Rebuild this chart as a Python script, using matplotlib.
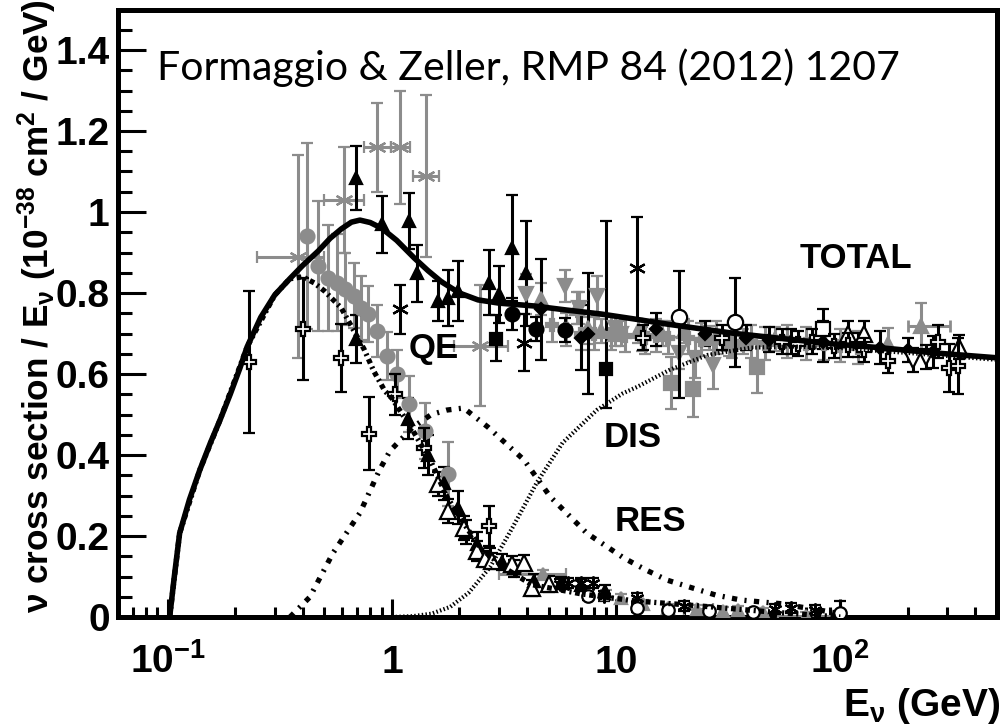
import matplotlib
matplotlib.use('Agg')
import matplotlib.pyplot as plt
from matplotlib.ticker import LogLocator, NullFormatter, MultipleLocator

plt.rcParams['font.family'] = 'Liberation Sans'
plt.rcParams['font.weight'] = 'bold'
plt.rcParams['mathtext.fontset'] = 'custom'
plt.rcParams['mathtext.rm'] = 'Liberation Sans:bold'
plt.rcParams['mathtext.bf'] = 'Liberation Sans:bold'
plt.rcParams['mathtext.it'] = 'Liberation Sans:bold'
plt.rcParams['mathtext.default'] = 'bf'

GRAY = '#8c8c8c'

## ----- theory curves ----- ##
total_e = [0.102, 0.107, 0.113, 0.125, 0.139, 0.155, 0.171, 0.19, 0.21, 0.226, 0.26, 0.30, 0.35, 0.40,
           0.47, 0.53, 0.594, 0.66, 0.72, 0.80, 0.90, 1.05, 1.26, 1.45, 1.66, 2.0, 2.42, 3.0, 4.3, 6.0,
           8.6, 12, 17, 25, 34, 50, 94, 150, 264, 500]
total_xs = [0.0, 0.10, 0.207, 0.29, 0.363, 0.43, 0.486, 0.55, 0.615, 0.667, 0.74, 0.795, 0.835, 0.868,
            0.904, 0.935, 0.958, 0.975, 0.98, 0.974, 0.96, 0.93, 0.886, 0.855, 0.828, 0.80, 0.783, 0.775,
            0.768, 0.758, 0.748, 0.736, 0.723, 0.71, 0.70, 0.69, 0.674, 0.665, 0.652, 0.64]

qe_e = [0.102, 0.113, 0.139, 0.171, 0.226, 0.30, 0.35, 0.40, 0.45, 0.50, 0.594, 0.75, 0.83, 0.93, 1.0,
        1.22, 1.49, 1.77, 2.1, 2.48, 3.2, 4.2, 7.0, 12, 24, 50, 100]
qe_xs = [0.0, 0.207, 0.363, 0.486, 0.667, 0.795, 0.835, 0.84, 0.825, 0.805, 0.763, 0.662, 0.607, 0.558,
         0.54, 0.467, 0.385, 0.294, 0.23, 0.17, 0.12, 0.08, 0.057, 0.04, 0.027, 0.012, 0.0]

res_e = [0.351, 0.43, 0.546, 0.72, 0.88, 0.98, 1.24, 1.5, 1.76, 2.09, 2.68, 3.2, 3.88, 5.1, 7.4, 10.8,
         13.6, 16.9, 21.8, 27.9, 36, 44.7, 56.7, 66, 85, 100]
res_xs = [0.0, 0.049, 0.158, 0.257, 0.363, 0.41, 0.469, 0.50, 0.511, 0.516, 0.469, 0.43, 0.388, 0.296,
          0.207, 0.146, 0.116, 0.091, 0.072, 0.054, 0.042, 0.037, 0.032, 0.025, 0.015, 0.008]

dis_e = [1.0, 1.24, 1.5, 1.82, 2.2, 2.74, 3.46, 4.42, 5.77, 8.2, 10.7, 12.4, 17.3, 25.6, 40, 60, 100, 200, 500]
dis_xs = [0.0, 0.002, 0.008, 0.025, 0.06, 0.123, 0.222, 0.331, 0.43, 0.511, 0.552, 0.568, 0.61, 0.647,
          0.665, 0.668, 0.664, 0.652, 0.635]

## ----- measurements (read off the figure) ----- ##
# gray asterisks with energy bins
ast_g_e = [0.38, 0.61, 0.86, 1.09, 1.42, 2.47]
ast_g_xs = [0.89, 1.03, 1.16, 1.16, 1.09, 0.67]
ast_g_err = [0.25, 0.13, 0.11, 0.14, 0.20, 0.15]
ast_g_elo = [0.25, 0.50, 0.75, 0.99, 1.24, 1.90]
ast_g_ehi = [0.50, 0.75, 0.99, 1.21, 1.62, 3.30]

# gray circles (QE)
circ_g_e = [0.42, 0.47, 0.52, 0.57, 0.62, 0.68, 0.73, 0.78, 0.86, 0.95, 1.05, 1.19, 1.41, 1.77]
circ_g_xs = [0.94, 0.867, 0.837, 0.825, 0.81, 0.793, 0.763, 0.748, 0.706, 0.644, 0.60, 0.526, 0.459, 0.353]
circ_g_err = [0.23, 0.16, 0.13, 0.12, 0.09, 0.08, 0.08, 0.07, 0.065, 0.06, 0.06, 0.07, 0.07, 0.08]

# black triangles (total)
tri_b_e = [0.69, 0.90, 1.19, 1.30, 1.60, 1.78, 1.98, 2.7, 3.0, 3.45, 3.95]
tri_b_xs = [1.084, 0.97, 0.978, 0.849, 0.78, 0.788, 0.805, 0.825, 0.797, 0.911, 0.849]
tri_b_err = [0.08, 0.07, 0.07, 0.07, 0.05, 0.07, 0.075, 0.08, 0.07, 0.13, 0.13]

# black triangles (QE falloff)
tri_q_e = [0.69, 1.18, 1.45, 1.7, 1.98, 2.15, 2.4, 2.75, 3.1, 3.5, 4.3, 5.7, 7.0, 8.9]
tri_q_xs = [0.686, 0.49, 0.40, 0.33, 0.27, 0.21, 0.18, 0.15, 0.135, 0.12, 0.09, 0.085, 0.08, 0.065]
tri_q_err = [0.06, 0.05, 0.05, 0.04, 0.04, 0.03, 0.03, 0.02, 0.02, 0.02, 0.015, 0.015, 0.015, 0.015]

# open triangles (QE falloff)
tri_o_e = [1.60, 1.77, 2.1, 2.4, 2.6, 2.8, 3.45, 3.9, 4.2, 5.0]
tri_o_xs = [0.328, 0.262, 0.22, 0.163, 0.143, 0.138, 0.131, 0.133, 0.072, 0.081]
tri_o_err = [0.03, 0.03, 0.03, 0.025, 0.02, 0.02, 0.02, 0.02, 0.02, 0.02]

# open crosses
plus_o_e = [0.23, 0.40, 0.594, 0.79, 1.03, 1.39, 2.7, 13.2, 29.8, 55, 65, 74.6, 94, 108, 128, 164, 274, 304, 336]
plus_o_xs = [0.63, 0.711, 0.64, 0.452, 0.55, 0.417, 0.225, 0.69, 0.69, 0.68, 0.675, 0.68, 0.67, 0.672,
             0.66, 0.632, 0.68, 0.615, 0.62]
plus_o_err = [0.175, 0.127, 0.084, 0.09, 0.05, 0.05, 0.05, 0.03, 0.03, 0.03, 0.03, 0.03, 0.03, 0.03,
              0.03, 0.03, 0.04, 0.06, 0.07]

# gray crosses
plus_g_e = [5.2, 6.0, 7.0, 8.0, 9.5, 11, 13.5, 15, 17, 21, 24, 28, 33, 40, 46, 58, 70, 85, 100, 120]
plus_g_xs = [0.72, 0.71, 0.70, 0.70, 0.70, 0.695, 0.69, 0.695, 0.69, 0.69, 0.685, 0.69, 0.68, 0.68,
             0.675, 0.68, 0.675, 0.675, 0.67, 0.665]
plus_g_err = [0.04, 0.04, 0.04, 0.04, 0.04, 0.04, 0.04, 0.04, 0.04, 0.04, 0.04, 0.04, 0.04, 0.04,
              0.04, 0.04, 0.04, 0.04, 0.04, 0.04]

# black circles
circ_b_e = [3.45, 4.4, 5.9]
circ_b_xs = [0.748, 0.711, 0.709]
circ_b_err = [0.04, 0.03, 0.03]

# black asterisks
ast_b_e = [1.09, 3.9, 12.4]
ast_b_xs = [0.76, 0.677, 0.862]
ast_b_err = [0.06, 0.07, 0.125]

# black squares
sq_b_e = [2.9, 9.0]
sq_b_xs = [0.686, 0.612]
sq_b_lo = [0.055, 0.096]
sq_b_hi = [0.06, 0.366]

# gray squares
sq_g_e = [17.5, 22, 42.6]
sq_g_xs = [0.578, 0.563, 0.617]
sq_g_err = [0.065, 0.07, 0.065]

# gray down triangles
dn_g_e = [3.95, 5.9, 6.8, 8.2, 9.9, 10.5, 13, 19, 22.5, 27]
dn_g_xs = [0.797, 0.817, 0.763, 0.793, 0.714, 0.70, 0.686, 0.652, 0.64, 0.622]
dn_g_err = [0.05, 0.04, 0.04, 0.05, 0.03, 0.03, 0.03, 0.04, 0.05, 0.06]

# gray up triangles
up_g_e = [4.6, 6.7, 7.5, 8.6, 9.9, 12.5, 16, 20, 26, 32, 37, 51, 164, 228]
up_g_xs = [0.785, 0.763, 0.714, 0.706, 0.70, 0.706, 0.70, 0.706, 0.689, 0.674, 0.68, 0.686, 0.674, 0.718]
up_g_err = [0.04, 0.04, 0.04, 0.03, 0.03, 0.03, 0.03, 0.03, 0.03, 0.03, 0.03, 0.03, 0.04, 0.058]

# black diamonds
dia_b_e = [4.6, 7.0, 7.5, 15, 25, 38, 48, 60, 84, 120, 150, 200, 260]
dia_b_xs = [0.76, 0.69, 0.70, 0.71, 0.70, 0.69, 0.685, 0.68, 0.68, 0.672, 0.665, 0.66, 0.655]
dia_b_err = [0.125, 0.08, 0.15, 0.04, 0.03, 0.03, 0.03, 0.03, 0.05, 0.03, 0.04, 0.03, 0.04]

# open circles
circ_o_e = [19, 34]
circ_o_xs = [0.74, 0.728]
circ_o_lo = [0.2, 0.11]
circ_o_hi = [0.115, 0.11]

# open squares / open triangles at high energy
sq_o_e = [84]
sq_o_xs = [0.711]
sq_o_err = [0.05]
up_o_e = [108, 128, 340]
up_o_xs = [0.70, 0.70, 0.667]
up_o_err = [0.03, 0.03, 0.03]
dn_o_e = [212, 241]
dn_o_xs = [0.634, 0.642]
dn_o_err = [0.03, 0.03]

# QE tail near zero
tail_g_e = [4.7, 9.0, 10.5, 13.2, 17, 23, 30, 35, 45, 70]
tail_g_xs = [0.106, 0.057, 0.047, 0.032, 0.022, 0.02, 0.015, 0.017, 0.012, 0.003]
tail_g_elo = [3.0, 9.0, 10.5, 13.2, 17, 20, 30, 35, 45, 53]
tail_g_ehi = [6.0, 9.0, 10.5, 13.2, 17, 27, 30, 35, 45, 97]
tail_b_e = [5.6, 6.1, 7.0, 7.9, 8.8, 12.4, 20, 51, 60, 77]
tail_b_xs = [0.081, 0.084, 0.084, 0.084, 0.052, 0.047, 0.027, 0.02, 0.022, 0.017]
tail_o_e = [7.5, 12.4, 17, 26, 41, 100]
tail_o_xs = [0.052, 0.022, 0.017, 0.015, 0.012, 0.01]
tail_o_err = [0.01, 0.01, 0.008, 0.008, 0.008, 0.03]


fig = plt.figure(figsize=(10.04, 7.25), dpi=100)
ax = fig.add_axes([118 / 1004, 1 - 617 / 725, 879 / 1004, 607.5 / 725])


def pts(x, y, yerr, marker, fc, ec, bar, ms=9, xerr=None, z=3):
    ax.errorbar(x, y, yerr=yerr, xerr=xerr, fmt='', marker=marker, ls='none', mfc=fc, mec=ec, ms=ms,
                mew=1.6, ecolor=bar, elinewidth=2.2, capsize=4, capthick=2, zorder=z)


def span(e, lo, hi):
    return [[a - b for a, b in zip(e, lo)], [c - a for a, c in zip(e, hi)]]


asterisk = (6, 2, 0)
pts(ast_g_e, ast_g_xs, ast_g_err, asterisk, GRAY, GRAY, GRAY, ms=13, xerr=span(ast_g_e, ast_g_elo, ast_g_ehi))
pts(circ_g_e, circ_g_xs, circ_g_err, 'o', GRAY, GRAY, GRAY, ms=10)
pts(plus_g_e, plus_g_xs, plus_g_err, 'P', GRAY, GRAY, GRAY, ms=9)
pts(dn_g_e, dn_g_xs, dn_g_err, 'v', GRAY, GRAY, GRAY, ms=10)
pts(up_g_e, up_g_xs, up_g_err, '^', GRAY, GRAY, GRAY, ms=10)
ax.errorbar([228], [0.718], xerr=[[28], [79]], fmt='none', ecolor=GRAY, elinewidth=2.2, capsize=4, capthick=2)
pts(sq_g_e, sq_g_xs, sq_g_err, 's', GRAY, GRAY, GRAY, ms=10)
pts(tail_g_e, tail_g_xs, 0.01, '^', GRAY, GRAY, GRAY, ms=9, xerr=span(tail_g_e, tail_g_elo, tail_g_ehi))

pts(tri_b_e, tri_b_xs, tri_b_err, '^', 'black', 'black', 'black', ms=9)
pts(tri_q_e, tri_q_xs, tri_q_err, '^', 'black', 'black', 'black', ms=8)
pts(tri_o_e, tri_o_xs, tri_o_err, '^', 'white', 'black', 'black', ms=11)
pts(plus_o_e, plus_o_xs, plus_o_err, 'P', 'white', 'black', 'black', ms=10, z=4)
pts(circ_b_e, circ_b_xs, circ_b_err, 'o', 'black', 'black', 'black', ms=10)
pts(ast_b_e, ast_b_xs, ast_b_err, asterisk, 'black', 'black', 'black', ms=12)
pts(sq_b_e, sq_b_xs, [sq_b_lo, sq_b_hi], 's', 'black', 'black', 'black', ms=9)
pts(dia_b_e, dia_b_xs, dia_b_err, 'D', 'black', 'black', 'black', ms=6)
pts(circ_o_e, circ_o_xs, [circ_o_lo, circ_o_hi], 'o', 'white', 'black', 'black', ms=11, z=4)
pts(sq_o_e, sq_o_xs, sq_o_err, 's', 'white', 'black', 'black', ms=10)
pts(up_o_e, up_o_xs, up_o_err, '^', 'white', 'black', 'black', ms=11)
pts(dn_o_e, dn_o_xs, dn_o_err, 'v', 'white', 'black', 'black', ms=11)
pts(tail_b_e, tail_b_xs, 0.012, asterisk, 'black', 'black', 'black', ms=10)
pts(tail_o_e, tail_o_xs, tail_o_err, 'o', 'white', 'black', 'black', ms=9)

# theory curves on top
ax.plot(res_e, res_xs, color='black', lw=3.8, ls=(0, (1.0, 1.4, 0.4, 1.4)), zorder=6)
ax.plot(qe_e, qe_xs, color='black', lw=3.8, ls=(0, (0.9, 0.7, 0.4, 0.7)), zorder=6)
ax.plot(dis_e, dis_xs, color='black', lw=3.0, ls=(0, (0.35, 0.55)), zorder=6)
ax.plot(total_e, total_xs, color='black', lw=4, solid_capstyle='butt', zorder=7)

ax.set_xscale('log')
ax.set_xlim(0.06, 500)
ax.set_ylim(0, 1.5)

ax.set_xticks([0.1, 1, 10, 100], labels=[r'$\mathbf{10^{-1}}$', '1', '10', r'$\mathbf{10^{2}}$'])
ax.xaxis.set_minor_locator(LogLocator(base=10, subs=[2, 3, 4, 5, 6, 7, 8, 9]))
ax.xaxis.set_minor_formatter(NullFormatter())
ax.set_yticks([0, 0.2, 0.4, 0.6, 0.8, 1.0, 1.2, 1.4],
              labels=['0', '0.2', '0.4', '0.6', '0.8', '1', '1.2', '1.4'])
ax.yaxis.set_minor_locator(MultipleLocator(0.05))

ax.tick_params(axis='both', which='both', direction='in', width=2.2, top=False, right=False)
ax.tick_params(axis='y', which='major', length=20, labelsize=28, pad=6)
ax.tick_params(axis='y', which='minor', length=10)
ax.tick_params(axis='x', which='major', length=13, labelsize=28, pad=40)
ax.tick_params(axis='x', which='minor', length=7)
for lab in ax.get_xticklabels():
    lab.set_verticalalignment('baseline')

for s in ax.spines.values():
    s.set_linewidth(3.6)

# curve labels
ax.text(117, 0.884, 'TOTAL', fontsize=25, ha='center', va='center', zorder=8)
ax.text(1.54, 0.664, 'QE', fontsize=25, ha='center', va='center', zorder=8)
ax.text(11.9, 0.442, 'DIS', fontsize=25, ha='center', va='center', zorder=8)
ax.text(14.2, 0.235, 'RES', fontsize=25, ha='center', va='center', zorder=8)

fig.text(157 / 1004, 1 - 80 / 725, 'Formaggio & Zeller, RMP 84 (2012) 1207',
         family='Lato', fontweight='normal', fontsize=29.5, ha='left', va='baseline')

fig.text(49 / 1004, 1 - 306 / 725,
         r'ν cross section / E$_\mathbf{ν}$ (10$^\mathbf{-38}$ cm$^\mathbf{2}$ / GeV)',
         fontsize=25.3, rotation=90, rotation_mode='anchor', ha='center', va='baseline')
fig.text(1000 / 1004, 1 - 716 / 725, r'E$_\mathbf{ν}$ (GeV)', fontsize=28, ha='right', va='baseline')

fig.savefig('out.png', dpi=100)
